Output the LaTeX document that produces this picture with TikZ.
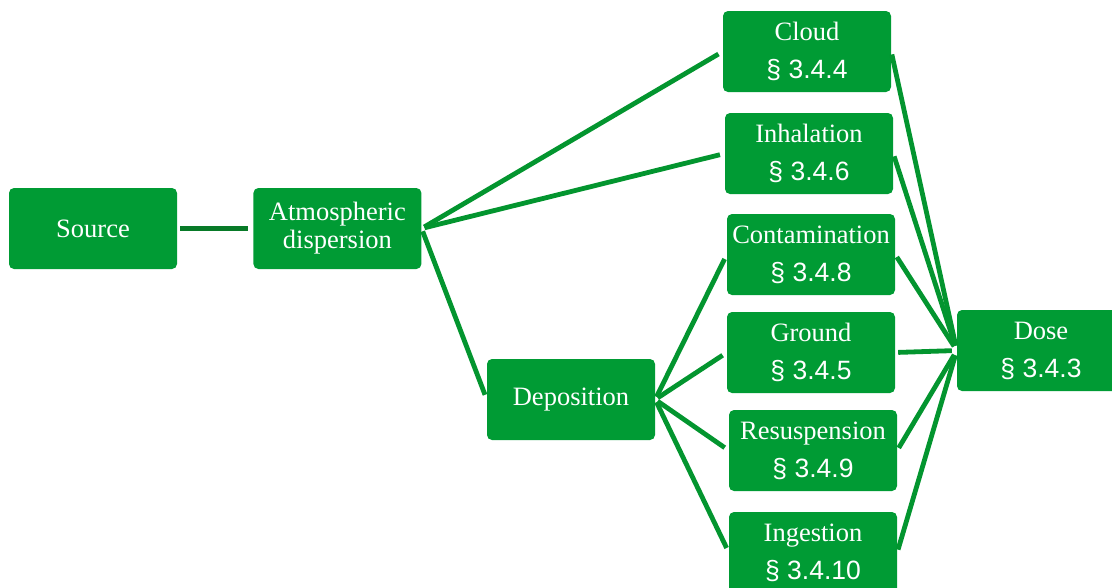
\documentclass[tikz,border=0pt]{standalone}
\usepackage{fontspec}
\setmainfont{Liberation Serif}
\setsansfont{Liberation Sans}
\usepackage{xcolor}
\usetikzlibrary{positioning}

\definecolor{boxgreen}{HTML}{009B34}
\definecolor{linkgreen}{HTML}{03952F}
\definecolor{darkgreen}{HTML}{087A28}
\newcommand{\secref}[1]{\\[10pt]{\sffamily § #1}}

\begin{document}
\begin{tikzpicture}[x=1pt, y=-1pt, node distance=76pt,
    box/.style={rectangle, rounded corners=5pt, fill=boxgreen, text=white,
      minimum width=168pt, minimum height=81pt, inner sep=0pt, align=center,
      font=\fontsize{26.5}{28}\selectfont},
    link/.style={draw=linkgreen, line width=4.8pt, shorten <=3pt, shorten >=5pt}]

    \useasboundingbox (0,0) rectangle (1112,587);

    % Cadena principal: fuente, dispersion y deposicion
    \node[box] (src) at (93,228.5) {Source};
    \node[box] (atm) [right=of src] {Atmospheric\\dispersion};
    \node[box] (dep) at (571,399.5) {Deposition};

    % Vias de exposicion (columna derecha, ligeramente inclinada)
    \node[box] (cloud) at (807,51.5) {Cloud\secref{3.4.4}};
    \node[box] (inh) at (809,153.5) {Inhalation\secref{3.4.6}};
    \node[box] (cont) at (811,254.5) {Contamination\secref{3.4.8}};
    \node[box] (grd) at (811,352.5) {Ground\secref{3.4.5}};
    \node[box] (resus) at (813,450.5) {Resuspension\secref{3.4.9}};
    \node[box] (ing) at (813,552.5) {Ingestion\secref{3.4.10}};

    % Dosis, cortada por el borde derecho
    \node[box] (dose) at (1041,350.5) {Dose\secref{3.4.3}};

    \path[link]
    % Desde la fuente hacia la dispersion
    (src) edge[draw=darkgreen, line width=5.3pt] (atm)

    % Ramas de la dispersion atmosferica
    (atm.east) edge (cloud.west)
    (atm.east) edge (inh.west)
    (atm.east) edge (dep.west)

    % Ramas de la deposicion
    (dep.east) edge (cont.west)
    (dep.east) edge (grd.west)
    (dep.east) edge (resus.west)
    (dep.east) edge (ing.west)

    % Todas las vias convergen en la dosis
    (cloud.east) edge (dose.west)
    (inh.east) edge (dose.west)
    (cont.east) edge (dose.west)
    (grd.east) edge (dose.west)
    (resus.east) edge (dose.west)
    (ing.east) edge (dose.west);
\end{tikzpicture}
\end{document}
